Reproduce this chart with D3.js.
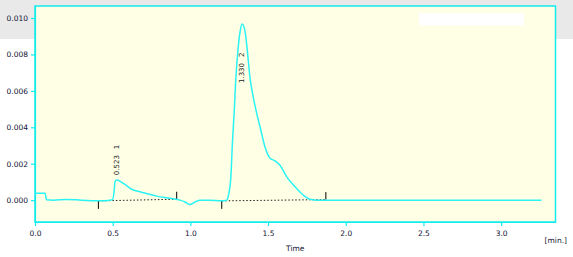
<!DOCTYPE html>
<html>
<head>
<meta charset="utf-8">
<script src="https://cdn.jsdelivr.net/npm/d3@7"></script>
<style>
  body { margin: 0; background: #ffffff; }
  text { font-family: "DejaVu Sans", Verdana, sans-serif; }
</style>
</head>
<body>
<div id="chart"></div>
<script>
// Signal trace (time in min., response)
const times = [0.00, 0.064, 0.075, 0.12, 0.20, 0.30, 0.42, 0.483, 0.50, 0.508, 0.515, 0.526, 0.569, 0.622,
  0.676, 0.73, 0.784, 0.87, 0.934, 0.966, 0.998, 1.03, 1.062, 1.12, 1.20, 1.234, 1.245, 1.26, 1.271,
  1.283, 1.292, 1.309, 1.320, 1.333, 1.352, 1.363, 1.384, 1.406, 1.427, 1.449, 1.481, 1.513, 1.545,
  1.578, 1.62, 1.674, 1.728, 1.771, 1.82, 2.0, 2.5, 3.0, 3.26];
const values = [0.00038, 0.00038, 0.00002, 0.0, 0.00004, 0.0, -0.00004, 0.0, 0.00003, 0.0004, 0.0010, 0.0011,
  0.00092, 0.0006, 0.00046, 0.00034, 0.00022, 0.0001, 0.0, -0.0001, -0.00024, -0.0001, 0.0, 0.0, -0.00003,
  0.0, 0.00027, 0.0012, 0.0032, 0.0050, 0.0066, 0.0085, 0.00925, 0.00967, 0.00925, 0.0085, 0.0067,
  0.0056, 0.00476, 0.004, 0.0029, 0.0023, 0.00216, 0.0019, 0.00128, 0.00073, 0.00027, 0.00005, 0.0, 0.0,
  0.0, 0.0, 0.0];

// Integration baselines: start / end of each peak
const peakNames = ["1", "2"];
const peakTimes = [0.523, 1.330];
const peakLabelBase = [0.00137, 0.00643];
const baseStart = [0.408, 1.202];
const baseStartValue = [-0.00004, -0.00004];
const baseEnd = [0.912, 1.872];
const baseEndValue = [0.00005, 0.00003];

const xTicks = [0, 0.5, 1.0, 1.5, 2.0, 2.5, 3.0];
const yTicks = [0, 0.002, 0.004, 0.006, 0.008, 0.010];

const width = 573, height = 257;
const margin = { top: 6, right: 17.5, bottom: 35, left: 35 };
const innerW = width - margin.left - margin.right;
const innerH = height - margin.top - margin.bottom;

const svgRoot = d3.select("#chart").append("svg")
  .attr("width", width)
  .attr("height", height);

// grey band across the top of the window
svgRoot.append("rect")
  .attr("x", 0).attr("y", 0)
  .attr("width", width).attr("height", 39)
  .attr("fill", "#e9e9e9");

const svg = svgRoot.append("g")
  .attr("transform", `translate(${margin.left},${margin.top})`);

const x = d3.scaleLinear().domain([0, 3.35]).range([0, innerW]);
const y = d3.scaleLinear().domain([-0.0012, 0.01066]).range([innerH, 0]);

// plot background
svg.append("rect")
  .attr("width", innerW).attr("height", innerH)
  .attr("fill", "#ffffe6");

// empty legend box
svg.append("rect")
  .attr("x", 384).attr("y", 7)
  .attr("width", 105).attr("height", 12.5)
  .attr("fill", "#ffffff");

const axisColor = "#12ecec";

const xAxis = d3.axisBottom(x).tickValues(xTicks).tickFormat(d3.format(".1f"))
  .tickSize(4).tickSizeOuter(0);
const yAxis = d3.axisLeft(y).tickValues(yTicks).tickFormat(d3.format(".3f"))
  .tickSize(4).tickSizeOuter(0);

svg.append("g")
  .attr("class", "x-axis")
  .attr("transform", `translate(0,${innerH})`)
  .call(xAxis);

svg.append("g")
  .attr("class", "y-axis")
  .call(yAxis);

svg.selectAll(".x-axis, .y-axis").selectAll("line, path")
  .attr("stroke", axisColor).attr("stroke-width", 1.2);
svg.selectAll(".x-axis, .y-axis").selectAll("text")
  .attr("fill", "#111133")
  .style("font-size", "7.5px");
svg.select(".x-axis").selectAll("text").attr("dy", "0.9em");

// frame
svg.append("rect")
  .attr("width", innerW).attr("height", innerH)
  .attr("fill", "none")
  .attr("stroke", axisColor)
  .attr("stroke-width", 1.5);

// baselines (dotted)
svg.selectAll(".baseline")
  .data(peakNames)
  .join("line")
  .attr("class", "baseline")
  .attr("x1", (d, i) => x(baseStart[i]))
  .attr("y1", (d, i) => y(baseStartValue[i]))
  .attr("x2", (d, i) => x(baseEnd[i]))
  .attr("y2", (d, i) => y(baseEndValue[i]))
  .attr("stroke", "#222")
  .attr("stroke-width", 1)
  .attr("stroke-dasharray", "1.5,2");

// start markers point down, end markers point up
svg.selectAll(".start-mark")
  .data(peakNames)
  .join("line")
  .attr("x1", (d, i) => x(baseStart[i]))
  .attr("x2", (d, i) => x(baseStart[i]))
  .attr("y1", (d, i) => y(baseStartValue[i]))
  .attr("y2", (d, i) => y(baseStartValue[i]) + 8)
  .attr("stroke", "#000").attr("stroke-width", 1);

svg.selectAll(".end-mark")
  .data(peakNames)
  .join("line")
  .attr("x1", (d, i) => x(baseEnd[i]))
  .attr("x2", (d, i) => x(baseEnd[i]))
  .attr("y1", (d, i) => y(baseEndValue[i]))
  .attr("y2", (d, i) => y(baseEndValue[i]) - 7.5)
  .attr("stroke", "#000").attr("stroke-width", 1);

// signal trace
const line = d3.line()
  .x(d => x(d[0]))
  .y(d => y(d[1]))
  .curve(d3.curveMonotoneX);

svg.append("path")
  .datum(times.map((t, i) => [t, values[i]]))
  .attr("fill", "none")
  .attr("stroke", "#2af3f3")
  .attr("stroke-width", 1.5)
  .attr("d", line);

// peak labels, rotated
const labels = svg.selectAll(".peak-label")
  .data(peakNames)
  .join("text")
  .attr("class", "peak-label")
  .attr("transform", (d, i) => `translate(${x(peakTimes[i]) + 2.5},${y(peakLabelBase[i])}) rotate(-90)`)
  .attr("fill", "#222")
  .style("font-size", "7px");
labels.append("tspan").text((d, i) => peakTimes[i].toFixed(3));
labels.append("tspan").attr("dx", 6).text(d => d);

// axis titles
svgRoot.append("text")
  .attr("x", margin.left + innerW / 2)
  .attr("y", 251)
  .attr("text-anchor", "middle")
  .attr("fill", "#111133")
  .style("font-size", "7.5px")
  .text("Time");

svgRoot.append("text")
  .attr("x", 567)
  .attr("y", 243)
  .attr("text-anchor", "end")
  .attr("fill", "#111133")
  .style("font-size", "7.5px")
  .text("[min.]");
</script>
</body>
</html>
